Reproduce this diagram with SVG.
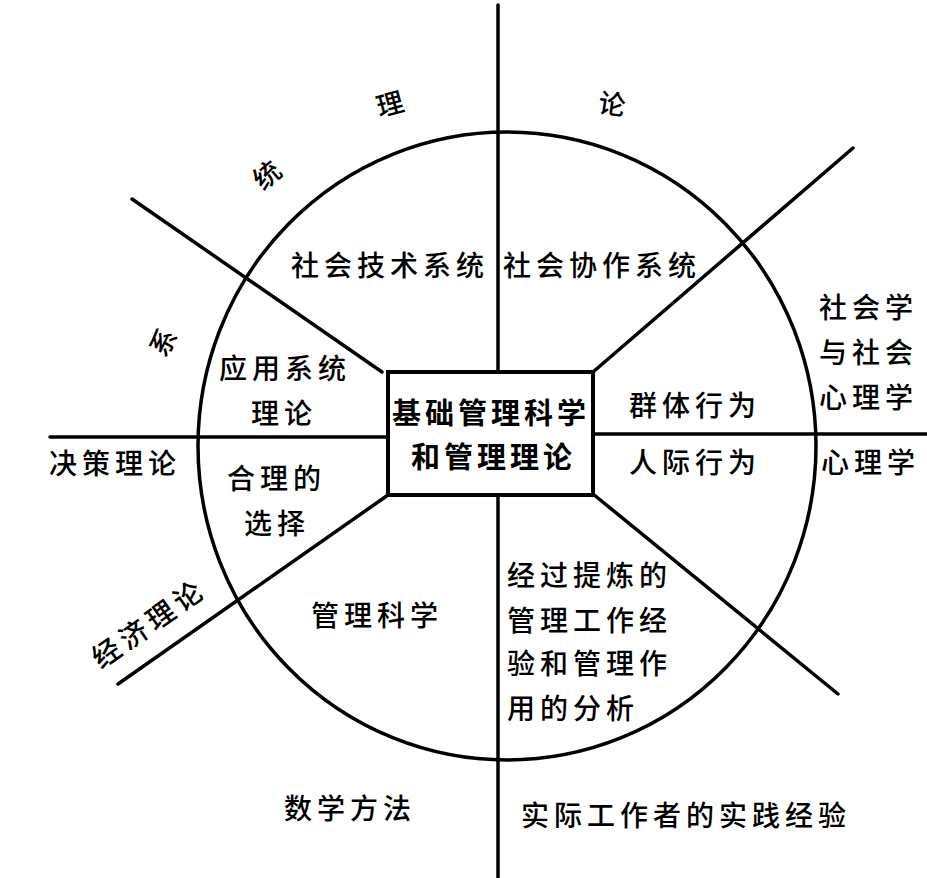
<svg xmlns="http://www.w3.org/2000/svg" width="927" height="878" viewBox="0 0 927 878">
<style>
.t{font-family:"Noto Sans CJK SC","Noto Sans",sans-serif;font-size:28px;font-weight:500;fill:#000;letter-spacing:5px}
.b{font-family:"Noto Sans CJK SC","Noto Sans",sans-serif;font-size:29px;font-weight:bold;fill:#000;letter-spacing:4px}
.s{font-family:"Noto Sans CJK SC","Noto Sans",sans-serif;font-size:27px;font-weight:500;fill:#000;text-anchor:middle}
.l{stroke:#000;stroke-width:3.5;fill:none;stroke-linecap:round}
</style>
<rect width="927" height="878" fill="#fff"/>
<g id="connectors">
<ellipse class="l" cx="507" cy="446" rx="309" ry="314"/>
<line class="l" x1="498" y1="5" x2="498" y2="372"/>
<line class="l" x1="498" y1="495" x2="498" y2="878"/>
<line class="l" x1="50" y1="437" x2="388" y2="437"/>
<line class="l" x1="593" y1="434" x2="927" y2="434"/>
<line class="l" x1="132" y1="199" x2="382" y2="372"/>
<line class="l" x1="853" y1="148" x2="593" y2="372"/>
<line class="l" x1="118" y1="684" x2="388" y2="495"/>
<line class="l" x1="593" y1="494" x2="838" y2="694"/>
</g>
<g id="center">
<rect x="388" y="372" width="205" height="123" fill="#fff" stroke="#000" stroke-width="4"/>
<text class="b" x="392" y="424">基础管理科学</text>
<text class="b" x="411" y="468">和管理理论</text>
</g>
<g id="system-theory">
<text class="s" transform="translate(163,342) rotate(-60)" y="10">系</text>
<text class="s" transform="translate(267,175) rotate(-40)" y="10">统</text>
<text class="s" transform="translate(390,104) rotate(-15)" y="10">理</text>
<text class="s" transform="translate(612,104) rotate(8)" y="10">论</text>
</g>
<g id="socio-tech"><text class="t" x="291" y="276">社会技术系统</text></g>
<g id="socio-coop"><text class="t" x="503" y="276">社会协作系统</text></g>
<g id="applied-system">
<text class="t" x="219" y="379">应用系统</text>
<text class="t" x="251" y="424">理论</text>
</g>
<g id="rational-choice">
<text class="t" x="227" y="489">合理的</text>
<text class="t" x="244" y="534">选择</text>
</g>
<g id="decision-theory"><text class="t" x="49" y="474">决策理论</text></g>
<g id="economic-theory"><text class="t" transform="translate(150,623) rotate(-35)" x="-67" y="10">经济理论</text></g>
<g id="management-science"><text class="t" x="311" y="626">管理科学</text></g>
<g id="math-methods"><text class="t" x="284" y="819">数学方法</text></g>
<g id="group-behavior"><text class="t" x="629" y="416">群体行为</text></g>
<g id="interpersonal"><text class="t" x="629" y="473">人际行为</text></g>
<g id="sociology">
<text class="t" x="819" y="318">社会学</text>
<text class="t" x="819" y="363">与社会</text>
<text class="t" x="819" y="408">心理学</text>
</g>
<g id="psychology"><text class="t" x="821" y="473">心理学</text></g>
<g id="experience-analysis">
<text class="t" x="507" y="586">经过提炼的</text>
<text class="t" x="507" y="631">管理工作经</text>
<text class="t" x="507" y="674">验和管理作</text>
<text class="t" x="507" y="719">用的分析</text>
</g>
<g id="practice"><text class="t" x="521" y="826">实际工作者的实践经验</text></g>
</svg>
